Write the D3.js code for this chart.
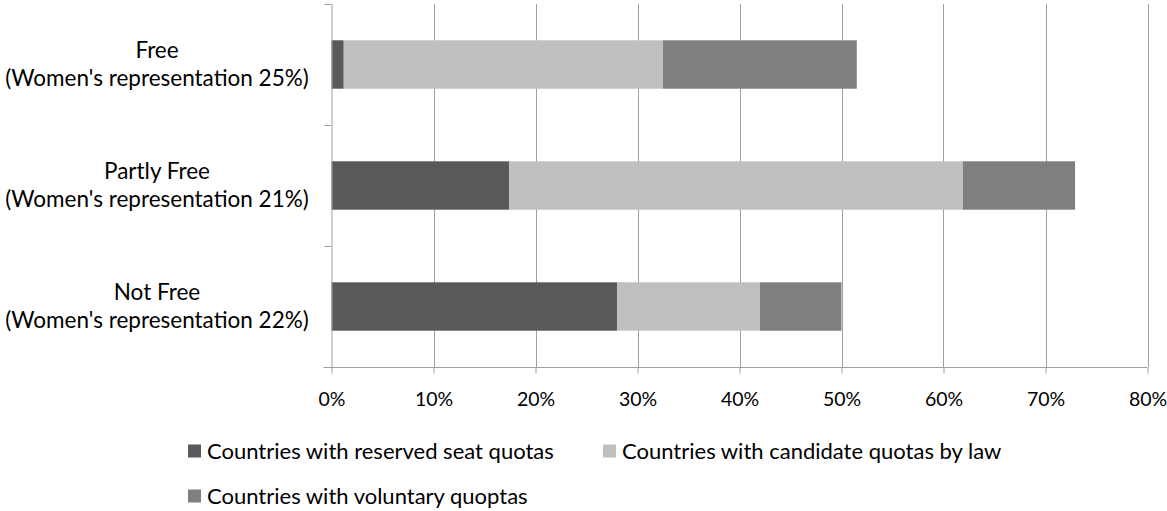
<!DOCTYPE html>
<html lang="en">
<head>
<meta charset="UTF-8">
<title>Quotas by freedom status</title>
<script src="https://d3js.org/d3.v7.min.js"></script>
<style>
    body { margin: 0; background: #fff; }
    svg text { font-family: Lato, "Open Sans", sans-serif; fill: #000; }
</style>
</head>
<body>
<div id="chart"></div>
<script>
    // Data
    const categories = ["Free", "Partly Free", "Not Free"];
    const subtitles = ["(Women's representation 25%)", "(Women's representation 21%)", "(Women's representation 22%)"];
    const seriesNames = ["Countries with reserved seat quotas", "Countries with candidate quotas by law", "Countries with voluntary quoptas"];
    const reserved = [0.012, 0.174, 0.28];
    const candidate = [0.313, 0.445, 0.14];
    const voluntary = [0.19, 0.11, 0.08];
    const xTicks = [0, 0.1, 0.2, 0.3, 0.4, 0.5, 0.6, 0.7, 0.8];

    const colors = ["#595959", "#bfbfbf", "#7f7f7f"];
    const width = 1167, height = 511;
    const plot = {left: 331.5, right: 1147.5, top: 4, bottom: 367};

    const svg = d3.select("#chart").append("svg")
        .attr("width", width)
        .attr("height", height);

    const x = d3.scaleLinear().domain([0, 0.8]).range([plot.left, plot.right]);
    const y = d3.scaleBand().domain(categories)
        .range([plot.top, plot.bottom])
        .paddingInner(0.6)
        .paddingOuter(0.3);

    // vertical gridlines
    svg.append("g")
        .selectAll("line")
        .data(xTicks.slice(1))
        .join("line")
        .attr("x1", d => Math.round(x(d)) + 0.5)
        .attr("x2", d => Math.round(x(d)) + 0.5)
        .attr("y1", plot.top)
        .attr("y2", plot.bottom)
        .attr("stroke", "#a0a0a0");

    // stacked bars
    const rows = categories.map((c, i) => ({cat: c, vals: [reserved[i], candidate[i], voluntary[i]]}));
    const stack = d3.stack().keys([0, 1, 2]).value((d, k) => d.vals[k]);
    const layers = stack(rows);

    svg.append("g")
        .selectAll("g")
        .data(layers)
        .join("g")
        .attr("fill", (d, i) => colors[i])
        .selectAll("rect")
        .data(d => d)
        .join("rect")
        .attr("x", d => x(d[0]))
        .attr("width", d => x(d[1]) - x(d[0]))
        .attr("y", d => y(d.data.cat))
        .attr("height", y.bandwidth());

    // x axis
    const xAxis = svg.append("g")
        .attr("transform", `translate(0,${plot.bottom + 0.5})`)
        .call(d3.axisBottom(x).tickValues(xTicks).tickFormat(d3.format(".0%")).tickSize(6).tickSizeOuter(0));
    xAxis.select(".domain").attr("stroke", "#a0a0a0").attr("d", `M${plot.left - 8},0H${plot.right}`);
    xAxis.selectAll(".tick line").attr("stroke", "#a0a0a0");
    xAxis.selectAll(".tick text")
        .attr("y", 32)
        .attr("dy", "0.35em")
        .style("font-size", "19.5px");

    // y axis: line plus ticks at band boundaries
    const yAxis = svg.append("g");
    yAxis.append("line")
        .attr("x1", plot.left + 0.5).attr("x2", plot.left + 0.5)
        .attr("y1", plot.top).attr("y2", plot.bottom)
        .attr("stroke", "#a0a0a0");
    const bounds = categories.map(c => y(c) - y.step() * y.paddingInner() / 2);
    bounds[0] = plot.top;
    bounds.push(plot.bottom);
    yAxis.selectAll(".ytick")
        .data(bounds)
        .join("line")
        .attr("class", "ytick")
        .attr("x1", plot.left - 7).attr("x2", plot.left)
        .attr("y1", d => Math.round(d) + 0.5).attr("y2", d => Math.round(d) + 0.5)
        .attr("stroke", "#a0a0a0");

    // category labels, two lines each
    const labels = svg.append("g").attr("text-anchor", "middle").style("font-size", "22.5px");
    categories.forEach((c, i) => {
        const cy = y(c) + y.bandwidth() / 2;
        labels.append("text").attr("x", 157).attr("y", cy - 14).attr("dy", "0.35em").text(c);
        labels.append("text").attr("x", 157).attr("y", cy + 14).attr("dy", "0.35em").text(subtitles[i]);
    });

    // legend
    const legendPos = [{x: 188, y: 451}, {x: 603, y: 451}, {x: 188, y: 496}];
    const legend = svg.append("g").selectAll("g")
        .data(seriesNames)
        .join("g")
        .attr("transform", (d, i) => `translate(${legendPos[i].x},${legendPos[i].y})`);
    legend.append("rect")
        .attr("x", 0).attr("y", -6.5)
        .attr("width", 13).attr("height", 13)
        .attr("fill", (d, i) => colors[i]);
    legend.append("text")
        .attr("x", 19)
        .attr("dy", "0.35em")
        .style("font-size", "22px")
        .text(d => d);
</script>
</body>
</html>
